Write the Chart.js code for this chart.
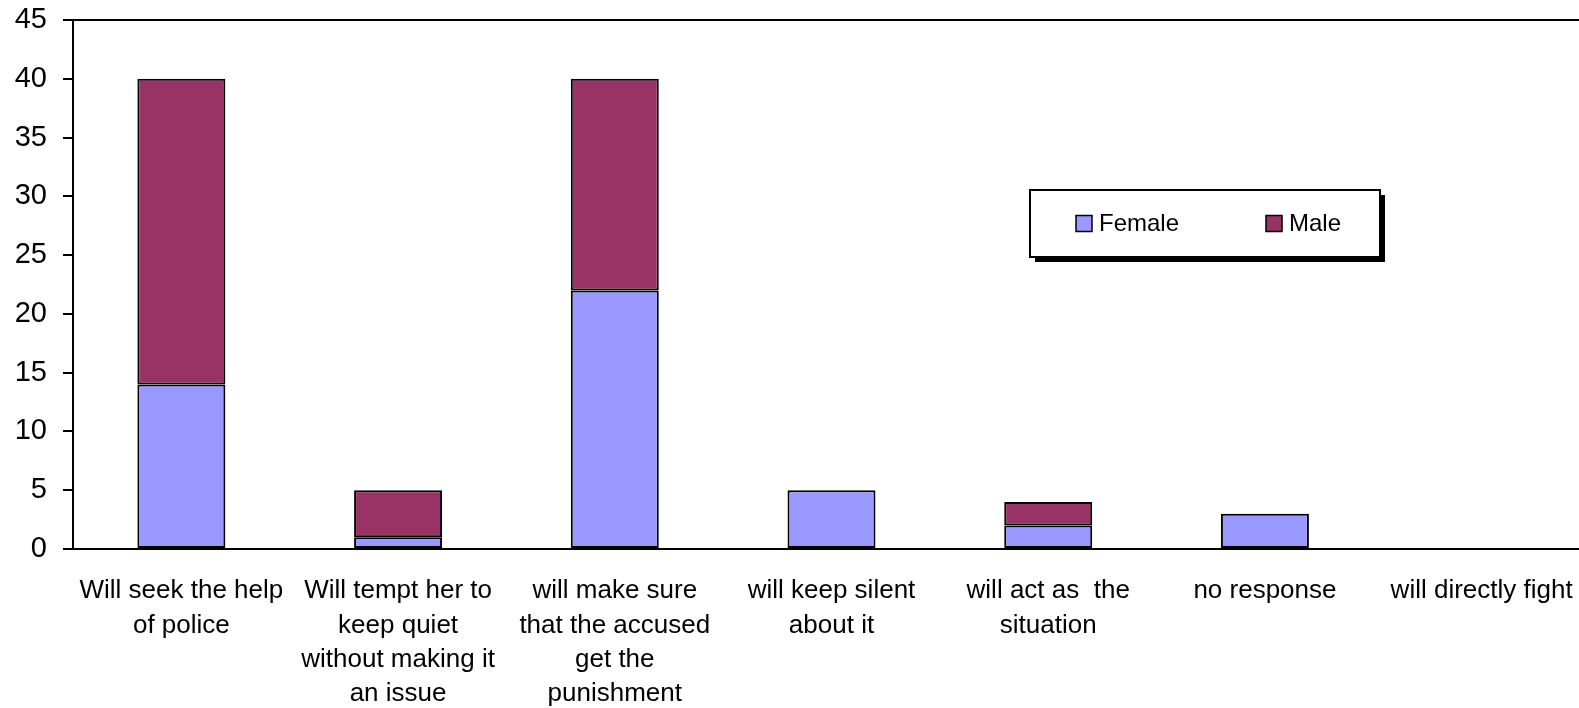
<!DOCTYPE html>
<html>
<head>
<meta charset="utf-8">
<script src="https://cdn.jsdelivr.net/npm/chart.js@4.4.1/dist/chart.umd.min.js"></script>
<style>
  html, body { margin: 0; padding: 0; background: #fff; overflow: hidden; }
  #wrap { width: 1600px; height: 708px; position: relative; }
</style>
</head>
<body>
<div id="wrap"><canvas id="chart"></canvas></div>
<script>
// Responses grouped by what the respondent would do
const categories = [
  ["Will seek the help", "of police"],
  ["Will tempt her to", "keep quiet", "without making it", "an issue"],
  ["will make sure", "that the accused", "get the", "punishment"],
  ["will keep silent", "about it"],
  ["will act as  the", "situation"],
  ["no response"],
  ["will directly fight"]
];
const femaleValues = [14, 1, 22, 5, 2, 3, 0];
const maleValues   = [26, 4, 18, 0, 2, 0, 0];
const seriesNames  = ["Female", "Male"];
const seriesColors = ["#9999FF", "#993366"];

const FONT = "'Liberation Sans', Arial, sans-serif";

// Black frame around the plot area (top edge and right edge)
const plotFrame = {
  id: 'plotFrame',
  afterDatasetsDraw(chart) {
    const { ctx, chartArea: a } = chart;
    ctx.save();
    ctx.strokeStyle = '#000';
    ctx.lineWidth = 2;
    ctx.beginPath();
    ctx.moveTo(a.left, a.top);
    ctx.lineTo(a.right, a.top);
    ctx.lineTo(a.right, a.bottom);
    ctx.stroke();
    ctx.restore();
  }
};

// Boxed legend with a drop shadow, placed inside the plot area
const boxedLegend = {
  id: 'boxedLegend',
  afterDraw(chart) {
    const { ctx, chartArea: a } = chart;
    const x = a.left + 957, y = a.top + 170, w = 350, h = 67;
    ctx.save();
    ctx.fillStyle = '#000';
    ctx.fillRect(x + 5, y + 5, w, h);
    ctx.fillStyle = '#fff';
    ctx.fillRect(x, y, w, h);
    ctx.strokeStyle = '#000';
    ctx.lineWidth = 2;
    ctx.strokeRect(x, y, w, h);

    const itemX = [x + 46, x + 236];
    const cy = y + 33.5;
    ctx.font = '24px ' + FONT;
    ctx.textBaseline = 'middle';
    ctx.textAlign = 'left';
    chart.data.datasets.forEach((ds, i) => {
      ctx.fillStyle = ds.backgroundColor;
      ctx.fillRect(itemX[i], cy - 8, 16, 16);
      ctx.lineWidth = 1.5;
      ctx.strokeStyle = '#000';
      ctx.strokeRect(itemX[i], cy - 8, 16, 16);
      ctx.fillStyle = '#000';
      ctx.fillText(ds.label, itemX[i] + 23, cy + 1);
    });
    ctx.restore();
  }
};

new Chart(document.getElementById('chart'), {
  type: 'bar',
  data: {
    labels: categories,
    datasets: [
      { label: seriesNames[0], data: femaleValues, backgroundColor: seriesColors[0] },
      { label: seriesNames[1], data: maleValues, backgroundColor: seriesColors[1] }
    ]
  },
  options: {
    responsive: true,
    maintainAspectRatio: false,
    animation: false,
    devicePixelRatio: 1,
    layout: { padding: { top: 20, right: 10, left: 0, bottom: 0 } },
    datasets: {
      bar: {
        borderColor: '#000',
        borderWidth: 2,
        borderSkipped: false,
        categoryPercentage: 1,
        barPercentage: 0.406
      }
    },
    plugins: {
      legend: { display: false },
      tooltip: { enabled: false },
      title: { display: false }
    },
    scales: {
      x: {
        stacked: true,
        grid: { display: false, drawTicks: false },
        border: { display: true, color: '#000', width: 2 },
        ticks: {
          color: '#000',
          font: { family: FONT, size: 26, lineHeight: 1.32 },
          padding: 25,
          maxRotation: 0,
          autoSkip: false
        },
        afterFit(axis) { axis.height = 159; }
      },
      y: {
        stacked: true,
        min: 0,
        max: 45,
        grid: { display: true, drawOnChartArea: false, drawTicks: true, tickLength: 10, color: '#000', lineWidth: 2 },
        border: { display: true, color: '#000', width: 2 },
        ticks: {
          stepSize: 5,
          color: '#000',
          font: { family: FONT, size: 29 },
          padding: 16
        },
        afterFit(axis) {
          axis.width = 73;
          axis.paddingTop = 0;
          axis.paddingBottom = 0;
        }
      }
    }
  },
  plugins: [plotFrame, boxedLegend]
});
</script>
</body>
</html>
